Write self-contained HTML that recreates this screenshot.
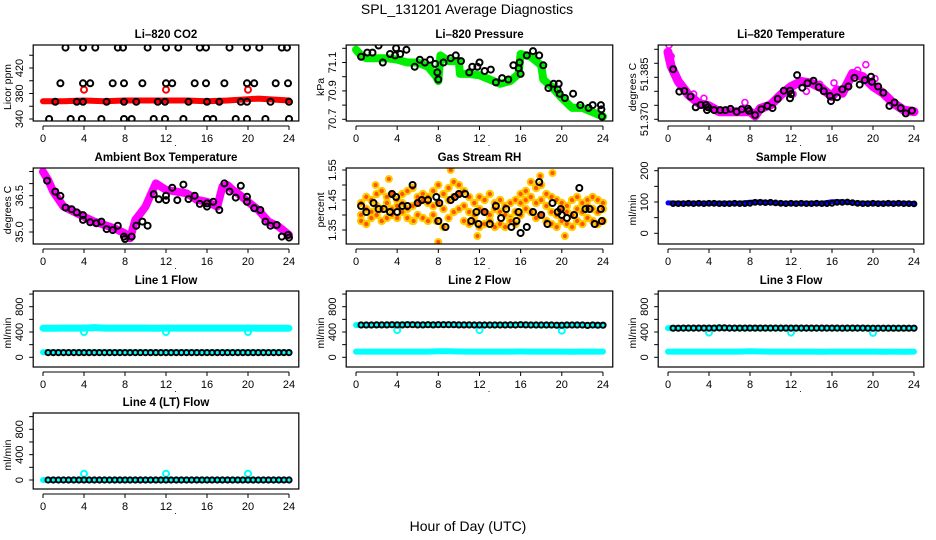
<!DOCTYPE html>
<html><head><meta charset="utf-8">
<style>
body{margin:0;background:#fff;}
svg{display:block;font-family:"Liberation Sans",sans-serif;}
</style></head>
<body>
<svg id="chart" width="936" height="540" viewBox="0 0 936 540" xmlns="http://www.w3.org/2000/svg">
<rect x="0" y="0" width="936" height="540" fill="#fff"/>
<text x="467" y="14" text-anchor="middle" font-size="14">SPL_131201  Average Diagnostics</text>
<text x="468" y="531" text-anchor="middle" font-size="14">Hour of Day (UTC)</text>
</svg>
<script>
// ---------- shared categories ----------
const hr = [0,1,2,3,4,5,6,7,8,9,10,11,12,13,14,15,16,17,18,19,20,21,22,23,24];
const hrs = [0.5,1,1.5,2,2.5,3,3.5,4,4.5,5,5.5,6,6.5,7,7.5,8,8.5,9,9.5,10,10.5,11,11.5,12,12.5,13,13.5,14,14.5,15,15.5,16,16.5,17,17.5,18,18.5,19,19.5,20,20.5,21,21.5,22,22.5,23,23.5,24];
const xTicks = [0,4,8,12,16,20,24];

// ---------- CO2 ----------
const co2BandX = [0,2,4,6,8,10,12,14,16,18,19,20,21,22,23,24];
const co2Band = [368,368,369,368,369,369,369,369,368,369,370,371,372,371,370,369];
const co2OutX = [4,12,20];
const co2Out = [386,386,386];
const co2BlackX = [2.2,3.9,5.1,7.3,7.8,10.2,12,13.2,15.3,15.9,18.2,19.9,21.1,23.3,23.8,
  1.7,3.9,4.6,6.8,7.9,9.7,12,12.6,14.8,15.9,17.7,19.9,20.6,22.7,23.9,
  0.6,2.7,3.8,5.7,7.9,8.65,10.8,11.9,13.7,16,16.6,18.8,19.9,21.7,24,
  1.2,3.3,3.9,6.2,7.9,9.1,11.2,11.9,14.2,16,17.2,19.3,19.9,22.2,24];
const co2Black = [452,452,452,452,452,452,452,452,452,452,452,452,452,452,452,
  396,396,396,396,396,396,396,396,396,396,396,396,396,396,396,
  340,340,340,340,340,340,340,340,340,340,340,340,340,340,340,
  367,367,367,367,367,367,367,367,367,367,367,367,367,367,367];

// ---------- Pressure ----------
const presBandX = [0,0.5,1,3,4,5,6,7,7.8,8,8.2,9,10,10.1,11,12,13,14,15,15.8,16,17,18,18.2,19,20,21,22,23,24];
const presBand = [71.19,71.15,71.13,71.13,71.12,71.10,71.10,71.07,71.00,70.97,71.15,71.11,71.11,71.02,71.02,71.01,70.98,70.95,70.97,71.02,71.16,71.14,71.08,70.98,70.93,70.85,70.78,70.78,70.75,70.72];
const presBlackX = [0.5,1.1,1.6,2.2,2.6,3.3,3.8,3.9,4.3,4.9,5.7,6.2,6.7,7.2,7.7,7.9,8,8.5,9.2,9.7,10.2,11,11.3,11.8,12,12.5,13.1,13.6,14.2,14.8,15.3,15.8,15.9,16,16.6,17.2,17.8,18.2,18.7,19.2,19.6,19.7,19.8,20.3,21.1,21.8,22.6,23,23.8,23.85,23.9];
const presBlack = [71.14,71.17,71.17,71.22,71.10,71.16,71.15,71.20,71.16,71.19,71.07,71.12,71.10,71.12,71.09,71.03,70.98,71.10,71.13,71.15,71.11,71.03,71.07,71.07,71.10,71.04,71.05,70.96,70.99,70.98,71.08,71.06,71.10,71.02,71.15,71.18,71.15,71.08,70.92,70.95,70.91,70.95,70.88,70.85,70.88,70.80,70.78,70.80,70.80,70.77,70.72];

// ---------- Li-820 temperature ----------
const tempBandX = [0,0.3,1,2,3,4,5,6,7,8,8.5,9,10,11,12,13,14,15,16,16.5,17,18,19,20,21,22,23,24];
const tempBand = [51.3940,51.3890,51.3835,51.3787,51.3757,51.3748,51.3727,51.3727,51.3727,51.3727,51.3712,51.3739,51.3751,51.3787,51.3817,51.3835,51.3829,51.3811,51.3781,51.3805,51.3793,51.3864,51.3852,51.3817,51.3793,51.3757,51.3733,51.3727];
const tempOutX = [0.1,0.3,2.5,3.5,7.5,12.2,13.5,14.8,16.2,18.5,19.3,20.2];
const tempOut = [51.3965,51.3925,51.3790,51.3775,51.3760,51.3790,51.3800,51.3825,51.3830,51.3875,51.3895,51.3845];
const tempBlackX = [0.5,1.1,1.6,2.2,2.7,3.2,3.7,3.8,3.9,4.5,5.1,5.6,6.1,6.7,7.2,7.8,7.9,8.5,9.1,9.7,10.2,10.7,11.3,11.9,11.9,12,12.6,13.1,13.6,14.2,14.7,15.2,15.8,15.9,16.5,17,17.6,18.2,18.7,19.2,19.8,19.9,20.5,21,21.6,22.1,22.7,23.2,23.8];
const tempBlack = [51.3879,51.3799,51.3801,51.3781,51.3743,51.3751,51.3751,51.3733,51.3743,51.3733,51.3733,51.3733,51.3737,51.3727,51.3736,51.3738,51.3730,51.3715,51.3736,51.3748,51.3740,51.3773,51.3802,51.3802,51.3775,51.3790,51.3858,51.3813,51.3829,51.3838,51.3815,51.3800,51.3783,51.3765,51.3779,51.3807,51.3817,51.3848,51.3824,51.3840,51.3852,51.3834,51.3817,51.3795,51.3748,51.3760,51.3740,51.3721,51.3731];

// ---------- Ambient box temperature ----------
const ambBandX = [0,0.5,1,2,3,4,5,6,7,8,8.5,9,9.5,10,10.5,11,12,13,14,15,16,17,17.5,18,18.5,19,20,21,22,23,24];
const ambBand = [37.49,37.15,36.67,36.05,35.84,35.63,35.43,35.29,35.15,34.94,34.74,35.50,35.77,36.05,36.53,37.01,36.74,36.67,36.60,36.33,36.25,36.05,36.87,36.94,36.74,36.60,36.25,35.91,35.43,35.22,34.88];
const ambBlackX = [0.4,1.2,1.7,2.2,2.8,3.3,3.9,3.9,4.6,5.2,5.7,6.2,6.8,7.3,7.9,8.0,8.65,9.1,9.7,10.2,10.8,11.3,12,12,12.6,13.1,13.7,14.2,14.8,15.3,16,16,16.6,17.2,17.7,18.2,18.8,19.3,19.9,19.9,20.6,21.2,21.7,22.2,22.8,23.3,23.9,24];
const ambBlack = [37.12,36.67,36.49,36.01,35.94,35.81,35.70,35.50,35.40,35.36,35.43,35.12,35.08,35.26,34.81,34.71,34.81,35.26,35.43,35.26,36.56,36.35,36.32,36.50,36.83,36.32,36.96,36.36,36.50,36.16,36.18,36.05,36.25,35.91,37.01,36.67,36.42,36.91,36.46,36.25,35.98,35.91,35.43,35.26,35.29,34.81,34.88,34.77];

// ---------- Gas stream RH ----------
const rhUpper = [1.44,1.46,1.45,1.47,1.48,1.46,1.47,1.45,1.47,1.48,1.49,1.46,1.47,1.46,1.48,1.50,1.47,1.49,1.51,1.50,1.48,1.46,1.44,1.46,1.45,1.47,1.44,1.45,1.43,1.44,1.45,1.47,1.48,1.51,1.49,1.50,1.47,1.46,1.45,1.44,1.43,1.45,1.46,1.44,1.45,1.46,1.45,1.44];
const rhMid = [1.40,1.42,1.41,1.43,1.42,1.44,1.42,1.43,1.44,1.42,1.43,1.44,1.45,1.44,1.43,1.44,1.42,1.45,1.46,1.47,1.43,1.41,1.40,1.42,1.41,1.40,1.42,1.41,1.40,1.39,1.41,1.44,1.45,1.46,1.44,1.45,1.43,1.41,1.40,1.42,1.41,1.40,1.42,1.41,1.43,1.42,1.41,1.42];
const rhLower = [1.38,1.37,1.39,1.40,1.38,1.39,1.40,1.39,1.41,1.39,1.38,1.40,1.39,1.38,1.40,1.38,1.36,1.39,1.41,1.42,1.38,1.37,1.38,1.36,1.37,1.38,1.36,1.37,1.36,1.38,1.37,1.40,1.42,1.41,1.39,1.40,1.38,1.37,1.36,1.38,1.37,1.36,1.38,1.37,1.39,1.38,1.37,1.38];
const rhOutX = [8,9.2,3.2,1.9,17.9,19.1,5.6,7.8,11.8,20.3];
const rhOut = [1.31,1.55,1.52,1.50,1.53,1.54,1.38,1.38,1.33,1.33];
const rhBlackX = [0.5,1,1.7,2.2,2.7,3.3,3.5,3.9,4,4.5,5,5.5,6,6.4,7,7.8,8,8.1,8.7,9.2,9.6,10,10.6,11.2,11.7,11.9,12.5,13,13.6,14.1,14.6,15.1,15.6,15.8,16,16.6,17.2,17.8,18,18.6,19.1,19.6,19.9,20,20.5,21.2,21.7,22.3,22.7,23.2,23.8,23.9];
const rhBlack = [1.43,1.41,1.44,1.42,1.42,1.41,1.47,1.46,1.41,1.43,1.43,1.50,1.44,1.45,1.45,1.46,1.38,1.44,1.36,1.45,1.46,1.47,1.47,1.38,1.41,1.37,1.41,1.37,1.43,1.39,1.42,1.36,1.38,1.41,1.34,1.36,1.41,1.51,1.40,1.37,1.44,1.41,1.42,1.40,1.39,1.40,1.49,1.42,1.42,1.37,1.42,1.38];

// ---------- Flows ----------
const sampleBand = [97,96,96,96,96,96,96,96,99,100,98,96,96,96,96,96,101,101,97,96,96,96,96,96,95];
const sampleBlack = [95,95,95,96,95,96,95,96,96,95,95,95,96,95,95,96,99,99,98,99,97,96,95,96,95,96,95,95,96,95,95,96,99,99,100,98,96,95,95,96,95,95,96,95,96,95,95,94];
const line1High = [460,460,462,462,462,470,462,462,462,462,462,460,462,462,462,462,462,462,462,462,462,460,460,458,460];
const line1Low = [80,78,78,78,78,78,78,78,78,78,78,78,78,78,78,78,78,78,78,78,78,78,78,78,78];
const line1Black = [75,75,75,75,75,75,75,75,75,75,75,75,75,75,75,75,75,75,75,75,75,75,75,75,75,75,75,75,75,75,75,75,75,75,75,75,75,75,75,75,75,75,75,75,75,75,75,75];
const line2High = [510,508,510,512,515,520,515,512,512,515,512,510,510,510,512,510,512,510,508,508,508,508,510,508,508];
const line2Low = [90,90,90,90,90,90,90,90,95,95,92,90,90,90,90,90,92,90,90,90,90,88,90,90,90];
const line2Black = [510,510,510,512,512,512,515,512,512,515,515,512,512,515,512,515,515,515,515,512,512,512,510,510,510,510,510,510,510,512,510,515,512,510,510,510,510,510,508,508,510,510,510,510,505,510,508,508];
const line3High = [462,462,462,462,462,470,462,462,462,462,462,460,460,460,460,462,460,460,460,460,460,460,460,458,460];
const line3Low = [90,90,90,90,90,90,90,90,95,92,90,90,90,90,90,88,90,90,90,90,90,88,90,88,90];
const line3Black = [460,460,462,462,462,462,462,462,462,465,465,462,462,462,462,462,462,462,462,462,462,462,462,462,462,462,462,462,462,462,462,462,462,460,462,462,462,462,460,460,460,460,460,460,460,460,460,460];
const line4Band = [0,0,0,0,0,0,0,0,0,0,0,0,0,0,0,0,0,0,0,0,0,0,0,0,0];
const line4Black = [0,0,0,0,0,0,0,0,0,0,0,0,0,0,0,0,0,0,0,0,0,0,0,0,0,0,0,0,0,0,0,0,0,0,0,0,0,0,0,0,0,0,0,0,0,0,0,0];
const spikeX = [4,12,20];
const line1Spike = [400,400,400];
const line2Spike = [430,430,420];
const line3Spike = [390,390,385];
const line4Spike = [100,100,100];

// ---------- drawing ----------
const NS = 'http://www.w3.org/2000/svg';
const svg = document.getElementById('chart');
const X0 = [43, 356, 668];
const KX = [10.25, 10.29, 10.25];
const TOP = [45, 168, 291, 413];
const H = 76;

function el(tag, parent) { const e = document.createElementNS(NS, tag); parent.appendChild(e); return e; }

function panel(cfg) {
  const g = el('g', svg);
  
  
  const x0 = X0[cfg.col], k = KX[cfg.col];
  const top = TOP[cfg.row], bot = top + H;
  const left = x0 - 9.8, right = x0 + 24 * k + 9.8;
  const sx = v => x0 + v * k;
  const sy = v => cfg.p0 + (v - cfg.v0) * (cfg.p1 - cfg.p0) / (cfg.v1 - cfg.v0);
  const clip = el('clipPath', g);
  clip.setAttribute('id', 'clip' + cfg.name);
  const cr = el('rect', clip);
  cr.setAttribute('x', left); cr.setAttribute('y', top); cr.setAttribute('width', right - left); cr.setAttribute('height', H);
  const plot = el('g', g);
  plot.setAttribute('clip-path', 'url(#clip' + cfg.name + ')');
  
  

  cfg.layers.forEach(L => {
    if (L.type === 'band') {
      const p = el('polyline', plot);
      
      
      p.setAttribute('points', L.x.map((xv, i) => sx(xv).toFixed(1) + ',' + sy(L.y[i]).toFixed(1)).join(' '));
      p.setAttribute('fill', 'none');
      p.setAttribute('stroke', L.color);
      p.setAttribute('stroke-width', L.w || 7);
      p.setAttribute('stroke-linejoin', 'round');
      p.setAttribute('stroke-linecap', 'round');
    } else {
      L.x.forEach((xv, i) => {
        const c = el('circle', plot);
        
        
        c.setAttribute('cx', sx(xv).toFixed(1));
        c.setAttribute('cy', sy(L.y[i]).toFixed(1));
        c.setAttribute('r', L.r || 3);
        c.setAttribute('fill', L.fill || 'none');
        c.setAttribute('stroke', L.color);
        c.setAttribute('stroke-width', L.sw || 2);
      });
    }
  });

  const box = el('rect', g);
  
  
  box.setAttribute('x', left); box.setAttribute('y', top); box.setAttribute('width', right - left); box.setAttribute('height', H);
  box.setAttribute('fill', 'none'); box.setAttribute('stroke', '#000'); box.setAttribute('stroke-width', 1.2);

  const t = el('text', g);
  
  
  t.setAttribute('x', (left + right) / 2); t.setAttribute('y', top - 7);
  t.setAttribute('text-anchor', 'middle'); t.setAttribute('font-size', 11.5); t.setAttribute('font-weight', 'bold');
  t.textContent = cfg.title;

  // x axis
  const xa = el('line', g);
  
  
  xa.setAttribute('x1', sx(0)); xa.setAttribute('x2', sx(24)); xa.setAttribute('y1', bot + 5); xa.setAttribute('y2', bot + 5);
  xa.setAttribute('stroke', '#000');
  xTicks.forEach(v => {
    const tk = el('line', g);
    
    
    tk.setAttribute('x1', sx(v)); tk.setAttribute('x2', sx(v)); tk.setAttribute('y1', bot + 5); tk.setAttribute('y2', bot + 9);
    tk.setAttribute('stroke', '#000');
    const lb = el('text', g);
    
    
    lb.setAttribute('x', sx(v)); lb.setAttribute('y', bot + 21);
    lb.setAttribute('text-anchor', 'middle'); lb.setAttribute('font-size', 11);
    lb.textContent = v;
  });
  const dot = el('text', g);
  
  
  dot.setAttribute('x', sx(12.8)); dot.setAttribute('y', bot + 25); dot.setAttribute('font-size', 9);
  dot.textContent = '.';

  // y axis
  cfg.ticks.forEach((v, i) => {
    const y = sy(v);
    const tk = el('line', g);
    
    
    tk.setAttribute('x1', left); tk.setAttribute('x2', left - 4); tk.setAttribute('y1', y); tk.setAttribute('y2', y);
    tk.setAttribute('stroke', '#000');
    const s = cfg.labels[i];
    if (s) {
      const lb = el('text', g);
      
      
      const lx = left - 10;
      const ly = y + (cfg.labelShift ? cfg.labelShift[i] : 0);
      lb.setAttribute('x', lx); lb.setAttribute('y', ly);
      lb.setAttribute('text-anchor', 'middle'); lb.setAttribute('font-size', 11);
      lb.setAttribute('transform', 'rotate(-90 ' + lx + ' ' + ly + ')');
      lb.textContent = s;
    }
  });
  const yl = el('text', g);
  
  
  const yx = left - 22, yy = top + H / 2 + 4;
  yl.setAttribute('x', yx); yl.setAttribute('y', yy);
  yl.setAttribute('text-anchor', 'middle'); yl.setAttribute('font-size', 10.5);
  yl.setAttribute('transform', 'rotate(-90 ' + yx + ' ' + yy + ')');
  yl.textContent = cfg.ylab;
}

const BLK = '#000', CYAN = '#00ffff';
const flowTicks = [0,200,400,600,800,1000];
const flowLabels = ['0','','400','','800',''];

panel({name:'co2-panel', col:0, row:0, title:'Li\u2013820 CO2', ylab:'Licor ppm', v0:340, p0:119, v1:420, p1:68,
  ticks:[340,360,380,400,420,440], labels:['340','','380','','420',''],
  layers:[{type:'band', name:'co2-band', x:co2BandX, y:co2Band, color:'#ff0000', w:6},
          {type:'pts', name:'co2-outlier', x:co2OutX, y:co2Out, color:'#ff0000'},
          {type:'pts', name:'co2-hourly-point', x:co2BlackX, y:co2Black, color:BLK}]});
panel({name:'pressure-panel', col:1, row:0, title:'Li\u2013820 Pressure', ylab:'kPa', v0:70.7, p0:119.3, v1:71.1, p1:62.5,
  ticks:[70.7,70.8,70.9,71.0,71.1,71.2], labels:['70.7','','70.9','','71.1',''],
  layers:[{type:'band', name:'pressure-band', x:presBandX, y:presBand, color:'#00ee00', w:8},
          {type:'pts', name:'pressure-hourly-point', x:presBlackX, y:presBlack, color:BLK}]});
panel({name:'licor-temp-panel', col:2, row:0, title:'Li\u2013820 Temperature', ylab:'degrees C', v0:51.370, p0:119.3, v1:51.385, p1:77.3,
  ticks:[51.370,51.375,51.380,51.385,51.390,51.395], labels:['51.370','','','51.385','',''],
  labelShift:[0,0,0,-3,0,0],
  layers:[{type:'band', name:'licor-temp-band', x:tempBandX, y:tempBand, color:'#ff00ff', w:9},
          {type:'pts', name:'licor-temp-outlier', x:tempOutX, y:tempOut, color:'#ff00ff', sw:1.6},
          {type:'pts', name:'licor-temp-hourly-point', x:tempBlackX, y:tempBlack, color:BLK}]});
panel({name:'ambient-temp-panel', col:0, row:1, title:'Ambient Box Temperature', ylab:'degrees C', v0:35.0, p0:232, v1:36.5, p1:195.7,
  ticks:[35.0,35.5,36.0,36.5,37.0,37.5], labels:['35.0','','','36.5','',''],
  layers:[{type:'band', name:'ambient-temp-band', x:ambBandX, y:ambBand, color:'#ff00ff', w:8},
          {type:'pts', name:'ambient-temp-hourly-point', x:ambBlackX, y:ambBlack, color:BLK}]});
panel({name:'rh-panel', col:1, row:1, title:'Gas Stream RH', ylab:'percent', v0:1.35, p0:230, v1:1.55, p1:170,
  ticks:[1.35,1.40,1.45,1.50,1.55], labels:['1.35','','1.45','','1.55'],
  layers:[{type:'pts', name:'rh-point-upper', x:hrs, y:rhUpper, color:'#ffcc00', fill:'#ff5500', r:3.2, sw:2},
          {type:'pts', name:'rh-point-mid', x:hrs, y:rhMid, color:'#ffcc00', fill:'#ff5500', r:3.2, sw:2},
          {type:'pts', name:'rh-point-lower', x:hrs, y:rhLower, color:'#ffcc00', fill:'#ff5500', r:3.2, sw:2},
          {type:'pts', name:'rh-outlier', x:rhOutX, y:rhOut, color:'#ffcc00', fill:'#ff5500', r:3, sw:2},
          {type:'pts', name:'rh-hourly-point', x:rhBlackX, y:rhBlack, color:BLK}]});
panel({name:'sample-flow-panel', col:2, row:1, title:'Sample Flow', ylab:'ml/min', v0:0, p0:233.3, v1:200, p1:170.7,
  ticks:[0,50,100,150,200], labels:['0','','100','','200'],
  layers:[{type:'band', name:'sample-flow-band', x:hr, y:sampleBand, color:'#0000ff', w:5},
          {type:'pts', name:'sample-flow-hourly-point', x:hrs, y:sampleBlack, color:BLK, r:2.4}]});
panel({name:'line1-flow-panel', col:0, row:2, title:'Line 1 Flow', ylab:'ml/min', v0:0, p0:357.3, v1:800, p1:306.7,
  ticks:flowTicks, labels:flowLabels,
  layers:[{type:'band', name:'line1-high-band', x:hr, y:line1High, color:CYAN, w:7},
          {type:'band', name:'line1-low-band', x:hr, y:line1Low, color:CYAN, w:6},
          {type:'pts', name:'line1-spike', x:spikeX, y:line1Spike, color:CYAN},
          {type:'pts', name:'line1-hourly-point', x:hrs, y:line1Black, color:BLK, r:2.6}]});
panel({name:'line2-flow-panel', col:1, row:2, title:'Line 2 Flow', ylab:'ml/min', v0:0, p0:357.3, v1:800, p1:306.7,
  ticks:flowTicks, labels:flowLabels,
  layers:[{type:'band', name:'line2-high-band', x:hr, y:line2High, color:CYAN, w:6},
          {type:'band', name:'line2-low-band', x:hr, y:line2Low, color:CYAN, w:6},
          {type:'pts', name:'line2-spike', x:spikeX, y:line2Spike, color:CYAN},
          {type:'pts', name:'line2-hourly-point', x:hrs, y:line2Black, color:BLK, r:2.6}]});
panel({name:'line3-flow-panel', col:2, row:2, title:'Line 3 Flow', ylab:'ml/min', v0:0, p0:357.3, v1:800, p1:306.7,
  ticks:flowTicks, labels:flowLabels,
  layers:[{type:'band', name:'line3-high-band', x:hr, y:line3High, color:CYAN, w:6},
          {type:'band', name:'line3-low-band', x:hr, y:line3Low, color:CYAN, w:6},
          {type:'pts', name:'line3-spike', x:spikeX, y:line3Spike, color:CYAN},
          {type:'pts', name:'line3-hourly-point', x:hrs, y:line3Black, color:BLK, r:2.6}]});
panel({name:'line4-flow-panel', col:0, row:3, title:'Line 4 (LT) Flow', ylab:'ml/min', v0:0, p0:480, v1:800, p1:429.3,
  ticks:flowTicks, labels:flowLabels,
  layers:[{type:'band', name:'line4-band', x:hr, y:line4Band, color:CYAN, w:6},
          {type:'pts', name:'line4-spike', x:spikeX, y:line4Spike, color:CYAN},
          {type:'pts', name:'line4-hourly-point', x:hrs, y:line4Black, color:BLK, r:2.6}]});
</script>
</body></html>
